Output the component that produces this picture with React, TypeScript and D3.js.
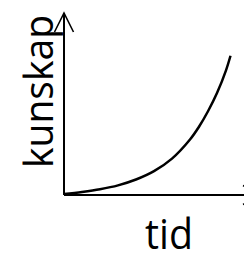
import React, { useEffect, useRef } from "react";
import * as d3 from "d3";

// values (tid -> kunskap)
const tid = [0, 1, 2, 3, 4, 5, 6, 7, 7.5, 8, 8.5, 9, 9.25];
const kunskap = [0.05, 0.17, 0.32, 0.53, 0.85, 1.31, 2.0, 3.05, 3.75, 4.6, 5.6, 6.85, 7.65];

const xLabel = "tid";
const yLabel = "kunskap";

const App: React.FC = () => {
  const svgRef = useRef<SVGSVGElement | null>(null);

  useEffect(() => {
    if (!svgRef.current) return;
    const svg = d3.select(svgRef.current);
    svg.selectAll("*").remove();

    const width = 244;
    const height = 254;

    svg.attr("width", width).attr("height", height);

    const x = d3.scaleLinear().domain([0, 10]).range([64, 244]);
    const y = d3.scaleLinear().domain([0, 10]).range([195, 13]);

    const g = svg.append("g");

    // y axis with open arrow
    g.append("line")
      .attr("x1", x(0))
      .attr("y1", y(0))
      .attr("x2", x(0))
      .attr("y2", y(10))
      .attr("stroke", "#000")
      .attr("stroke-width", 2);
    g.append("path")
      .attr(
        "d",
        `M${x(0) - 9.5},${y(10) + 19} L${x(0)},${y(10)} L${x(0) + 9.5},${y(10) + 19}`
      )
      .attr("fill", "none")
      .attr("stroke", "#000")
      .attr("stroke-width", 1.6);

    // x axis, the arrow tip falls just outside the frame
    const xEnd = x(11);
    g.append("line")
      .attr("x1", x(0))
      .attr("y1", y(0))
      .attr("x2", xEnd)
      .attr("y2", y(0))
      .attr("stroke", "#000")
      .attr("stroke-width", 2);
    g.append("path")
      .attr(
        "d",
        `M${xEnd - 19},${y(0) - 9.5} L${xEnd},${y(0)} L${xEnd - 19},${y(0) + 9.5}`
      )
      .attr("fill", "none")
      .attr("stroke", "#000")
      .attr("stroke-width", 1.6);

    const line = d3
      .line<number>()
      .x((d) => x(d))
      .y((_, i) => y(kunskap[i]))
      .curve(d3.curveCatmullRom);

    g.append("path")
      .datum(tid)
      .attr("d", line)
      .attr("fill", "none")
      .attr("stroke", "#000")
      .attr("stroke-width", 2.5);

    g.append("text")
      .attr("transform", `translate(53,${(15 + 168) / 2}) rotate(-90)`)
      .attr("text-anchor", "middle")
      .attr("font-family", "Open Sans")
      .attr("font-size", 40)
      .attr("textLength", 153)
      .attr("lengthAdjust", "spacingAndGlyphs")
      .text(yLabel);

    g.append("text")
      .attr("x", 169)
      .attr("y", 249)
      .attr("text-anchor", "middle")
      .attr("font-family", "Open Sans")
      .attr("font-size", 42)
      .attr("textLength", 48)
      .attr("lengthAdjust", "spacingAndGlyphs")
      .text(xLabel);
  }, []);

  return (
    <svg
      ref={svgRef}
      style={{ position: "absolute", left: 0, top: 0, background: "#fff" }}
    ></svg>
  );
};

export default App;
